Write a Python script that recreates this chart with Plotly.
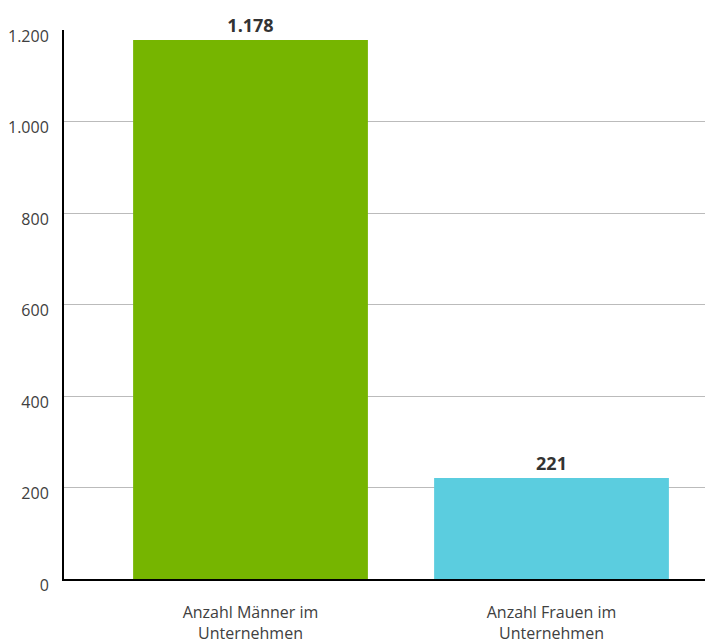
import plotly.graph_objects as go

categories = ["Anzahl Männer im<br>Unternehmen", "Anzahl Frauen im<br>Unternehmen"]
values = [1178, 221]
colors = ["#76b500", "#5bcddf"]
y_ticks = [0, 200, 400, 600, 800, 1000, 1200]

fig = go.Figure(
    go.Bar(
        x=[0, 1],
        y=values,
        marker=dict(color=colors, line=dict(width=0)),
        width=0.78,
        text=[f"<b>{v:,}</b>".replace(",", ".") for v in values],
        textposition="outside",
        textfont=dict(family="Open Sans", size=18, color="#333333"),
        cliponaxis=False,
        hoverinfo="skip",
    )
)

fig.update_layout(
    width=705,
    height=634,
    margin=dict(l=56, r=0, t=22, b=63),
    paper_bgcolor="white",
    plot_bgcolor="white",
    separators=",.",
    showlegend=False,
    font=dict(family="Open Sans", size=16, color="#404040"),
    xaxis=dict(
        range=[-0.6196, 1.5365],
        tickmode="array",
        tickvals=[0, 1],
        ticktext=categories,
        showgrid=False,
        showline=True,
        linecolor="#000000",
        linewidth=2,
        ticks="",
        ticklabelstandoff=18,
        tickfont=dict(size=16, color="#404040"),
        zeroline=False,
        automargin=False,
    ),
    yaxis=dict(
        range=[0, 1200],
        tickmode="array",
        tickvals=y_ticks,
        tickformat=",d",
        showgrid=True,
        gridcolor="#bbbbbb",
        gridwidth=1,
        showline=True,
        linecolor="#000000",
        linewidth=2,
        ticks="",
        ticklabelstandoff=10,
        ticklabelshift=6,
        tickfont=dict(size=16, color="#404040"),
        zeroline=False,
        automargin=False,
    ),
)

fig.write_html("out.html")
